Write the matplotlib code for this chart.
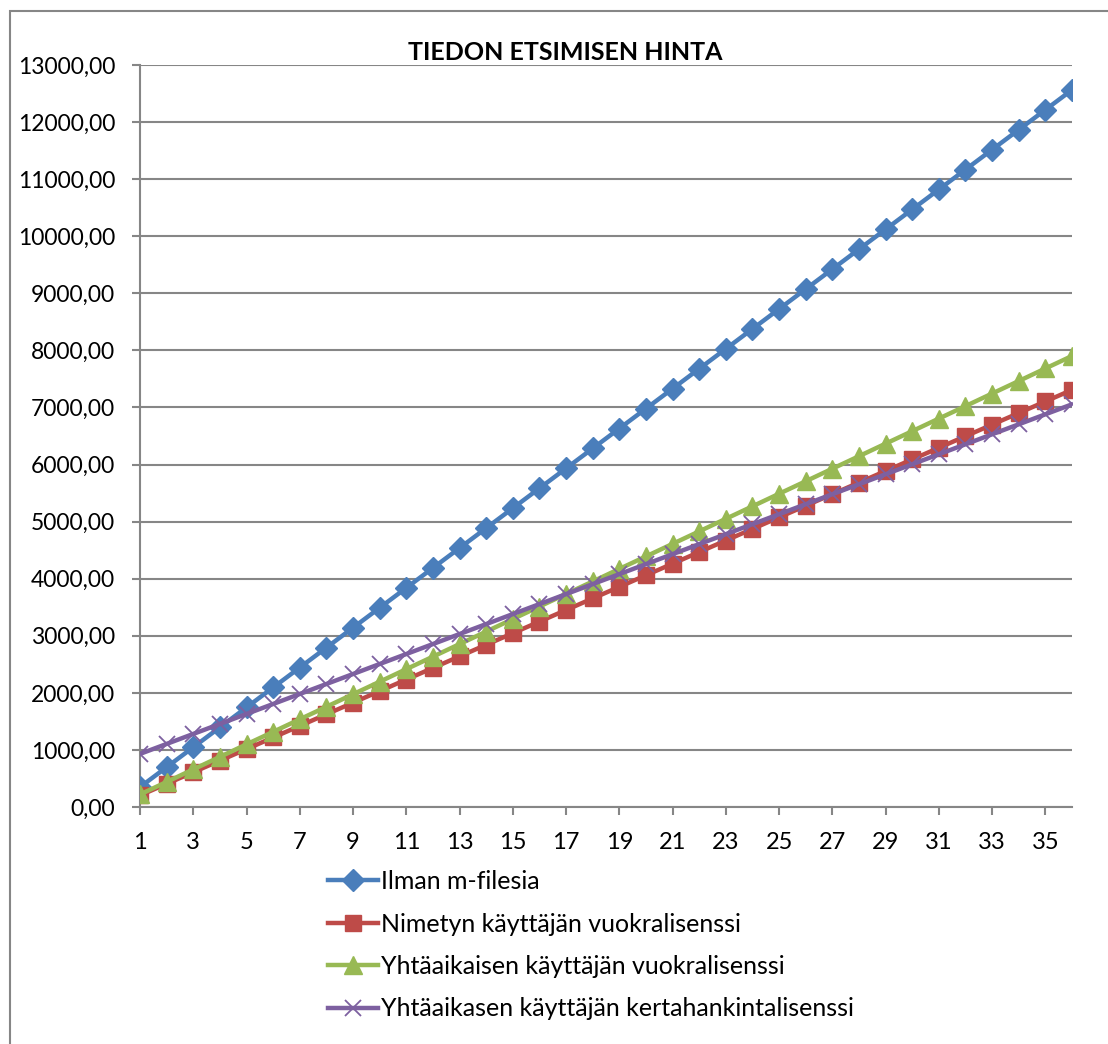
import matplotlib
matplotlib.use("Agg")
from matplotlib import pyplot as plt
from matplotlib.patches import Rectangle
from matplotlib.ticker import FuncFormatter

# months 1..36
months = list(range(1, 37))

ilman = [349, 698, 1047, 1396, 1745, 2094, 2443, 2792, 3141, 3490, 3839, 4188,
         4537, 4886, 5235, 5584, 5933, 6282, 6631, 6980, 7329, 7678, 8027, 8376,
         8725, 9074, 9423, 9772, 10121, 10470, 10819, 11168, 11517, 11866, 12215, 12564]
nimetyn = [203, 406, 609, 812, 1015, 1218, 1421, 1624, 1827, 2030, 2233, 2436,
           2639, 2842, 3045, 3248, 3451, 3654, 3857, 4060, 4263, 4466, 4669, 4872,
           5075, 5278, 5481, 5684, 5887, 6090, 6293, 6496, 6699, 6902, 7105, 7308]
yhta_vuokra = [220, 439, 659, 878, 1098, 1317, 1537, 1756, 1976, 2195, 2415, 2634,
               2854, 3073, 3293, 3512, 3732, 3951, 4171, 4390, 4610, 4829, 5049, 5268,
               5488, 5707, 5927, 6146, 6366, 6585, 6805, 7024, 7244, 7463, 7683, 7902]
yhta_kerta = [930, 1105, 1280, 1455, 1630, 1805, 1980, 2155, 2330, 2505, 2680, 2855,
              3030, 3205, 3380, 3555, 3730, 3905, 4080, 4255, 4430, 4605, 4780, 4955,
              5130, 5305, 5480, 5655, 5830, 6005, 6180, 6355, 6530, 6705, 6880, 7055]

labels = ["Ilman m-filesia",
          "Nimetyn käyttäjän vuokralisenssi",
          "Yhtäaikaisen käyttäjän vuokralisenssi",
          "Yhtäaikasen käyttäjän kertahankintalisenssi"]

plt.rcParams['font.family'] = ['Lato', 'DejaVu Sans']
grey = '#868686'

fig = plt.figure(figsize=(11.08, 10.44), dpi=100)
ax = fig.add_axes([140/1108, 1 - 807/1044, (1072-140)/1108, (807-65)/1044])

# outer chart frame (cut off at right and bottom)
fig.patches.append(Rectangle((10/1108, -0.1), 1.2, 1.1 - 11/1044,
                             transform=fig.transFigure, fill=False,
                             edgecolor=grey, lw=1.5))

ax.plot(months, ilman, color='#4A7EBB', lw=3.2, marker='D', ms=11,
        label=labels[0], zorder=3)
ax.plot(months, nimetyn, color='#BE4B48', lw=3.2, marker='s', ms=12,
        label=labels[1], zorder=3)
ax.plot(months, yhta_vuokra, color='#98B954', lw=3.2, marker='^', ms=13,
        label=labels[2], zorder=4)
ax.plot(months, yhta_kerta, color='#7D60A0', lw=3.2, marker='x', ms=12,
        mew=1.3, label=labels[3], zorder=5)

ax.set_xlim(1, 36)
ax.set_ylim(0, 13000)
ax.set_yticks(range(0, 13001, 1000))
ax.yaxis.set_major_formatter(FuncFormatter(lambda v, p: f"{v:.2f}".replace('.', ',')))
ax.set_xticks(range(1, 36, 2))
ax.grid(axis='y', color=grey, lw=1.5)
ax.set_axisbelow(True)
for s in ['top', 'right']:
    ax.spines[s].set_visible(False)
for s in ['left', 'bottom']:
    ax.spines[s].set_color(grey)
    ax.spines[s].set_linewidth(1.5)
ax.tick_params(axis='both', colors=grey, labelcolor='black', labelsize=17,
               length=6, width=1.5)
ax.tick_params(axis='x', pad=12)
ax.tick_params(axis='y', pad=12, labelsize=16.5)

fig.text(565/1108, 1 - 52/1044, "TIEDON ETSIMISEN HINTA", ha='center',
         va='center', fontsize=18, fontweight='bold')

fig.legend(loc='upper left', bbox_to_anchor=(318/1108, 1 - 860/1044),
           frameon=False, fontsize=18, handlelength=2.0, handletextpad=0.1,
           labelspacing=0.78, borderaxespad=0)

fig.savefig("out.png", dpi=100)
